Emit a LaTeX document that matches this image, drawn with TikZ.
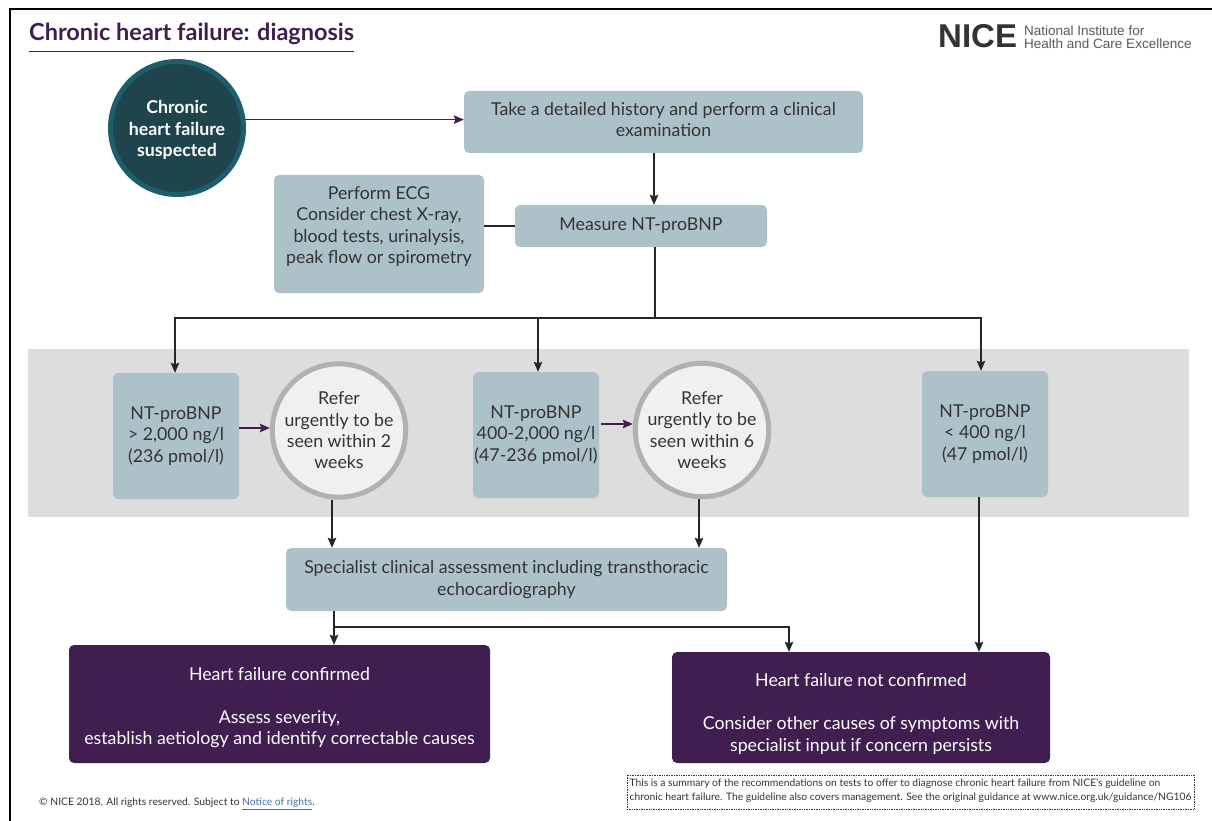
\documentclass[tikz,border=0pt]{standalone}
\usepackage{fontspec}
\setmainfont{Lato}
\newfontfamily\logofont{Liberation Sans}
\usetikzlibrary{arrows.meta}
\definecolor{boxblue}{HTML}{ADC2C8}
\definecolor{inkdark}{HTML}{333333}
\definecolor{nicepurple}{HTML}{401E4F}
\definecolor{darkteal}{HTML}{1F444C}
\definecolor{ringteal}{HTML}{1C5F6B}
\definecolor{bandgrey}{HTML}{DDDDDD}
\definecolor{ringgrey}{HTML}{B5B0B0}
\definecolor{paleround}{HTML}{F0F0EF}
\definecolor{linkblue}{HTML}{4472A8}
\tikzset{
  x=1pt,y=-1pt,
  bodytext/.style={font=\fontsize{17.75}{21.3}\selectfont,text=inkdark,align=center,inner sep=0pt},
  bluebox/.style={bodytext,fill=boxblue,rounded corners=5pt},
  purplebox/.style={bodytext,fill=nicepurple,text=white,rounded corners=5pt},
  startround/.style={bodytext,circle,fill=darkteal,draw=ringteal,line width=5pt,minimum size=133pt,text=white,font=\fontsize{17.75}{21.3}\selectfont\bfseries},
  referround/.style={bodytext,circle,fill=paleround,draw=ringgrey,line width=5pt,minimum size=133pt},
  blackarrow/.style={draw=black!85,line width=1.2pt,-{Stealth[length=10pt,width=8.5pt,inset=1.5pt]}},
  blackline/.style={draw=black!85,line width=1.2pt},
  purplearrow/.style={draw=nicepurple,line width=1.3pt,-{Stealth[length=10pt,width=8.5pt,inset=1.5pt]}},
}
\begin{document}
\begin{tikzpicture}
\useasboundingbox (0,0) rectangle (1212,821);
\fill[white] (0,0) rectangle (1212,821);
\draw[black,line width=2pt] (10,821) -- (10,9) -- (1212,9);
\fill[bandgrey] (28,349) rectangle (1189,517);
% title
\node[anchor=west,inner sep=0pt,text=nicepurple,font=\fontsize{23.5}{28}\selectfont\bfseries] (title) at (29,33.5) {Chronic heart failure: diagnosis};
\draw[nicepurple,line width=0.8pt] (title.west |- 0,51) -- (title.east |- 0,51);
% logo
\node[anchor=west,inner sep=0pt,text=inkdark,font=\fontsize{33}{33}\logofont\bfseries] (nice) at (938,36.5) {NICE};
\node[anchor=west,inner sep=0pt,text=black!65,align=left,font=\fontsize{13.5}{12.5}\logofont] (nicename) at (1024,37) {National Institute for\\Health and Care Excellence};
% nodes
\node[startround] (chf) at (177,128) {\rule{0pt}{17pt}Chronic\\heart failure\\suspected};
\node[bluebox,minimum width=399pt,minimum height=62pt] (hist) at (663.5,122) {Take a detailed history and perform a clinical\\\rule[-5pt]{0pt}{0pt}examination};
\node[bluebox,minimum width=252pt,minimum height=42pt] (bnp) at (641,226) {Measure NT-proBNP};
\node[bluebox,minimum width=210pt,minimum height=118pt] (ecg) at (379,234) {Perform ECG\\Consider chest X-ray,\\blood tests, urinalysis,\\\rule[-18pt]{0pt}{0pt}peak flow or spirometry};
\node[bluebox,minimum width=126pt,minimum height=126pt] (high) at (176,436) {NT-proBNP\\> 2,000 ng/l\\(236 pmol/l)};
\node[referround] (refa) at (339,430.5) {Refer\\urgently to be\\seen within 2\\weeks};
\node[bluebox,minimum width=126pt,minimum height=126pt] (mid) at (536,435) {NT-proBNP\\400-2,000 ng/l\\(47-236 pmol/l)};
\node[referround] (refb) at (702,430) {Refer\\urgently to be\\seen within 6\\weeks};
\node[bluebox,minimum width=126pt,minimum height=126pt] (low) at (985,434) {NT-proBNP\\< 400 ng/l\\(47 pmol/l)};
\node[bluebox,minimum width=441pt,minimum height=63pt] (spec) at (506.5,579.5) {Specialist clinical assessment including transthoracic\\echocardiography};
\node[purplebox,minimum width=421pt,minimum height=118pt] (conf) at (279.5,704) {\rule{0pt}{21pt}Heart failure confirmed\\[21.5pt]Assess severity,\\establish aetiology and identify correctable causes};
\node[purplebox,minimum width=378pt,minimum height=111pt] (notconf) at (861,707.5) {\rule{0pt}{26pt}Heart failure not confirmed\\[21.5pt]Consider other causes of symptoms with\\specialist input if concern persists};
% footer
\node[anchor=west,inner sep=0pt,text=inkdark,font=\fontsize{10.3}{12}\selectfont] (rights) at (39,804) {© NICE 2018. All rights reserved. Subject to \textcolor{linkblue}{\underline{Notice of rights}}.};
\node[draw=black!80,densely dotted,line width=0.7pt,text=inkdark,align=left,inner sep=0pt,minimum width=567pt,minimum height=34pt,font=\fontsize{10.3}{13.3}\selectfont] (note) at (910.5,792) {This is a summary of the recommendations on tests to offer to diagnose chronic heart failure from NICE's guideline on\\\rule[-5pt]{0pt}{0pt}chronic heart failure. The guideline also covers management. See the original guidance at www.nice.org.uk/guidance/NG106};
% junction coordinates
\coordinate (split) at (655,318);
\coordinate (fork) at (334,627);
\coordinate (ahi) at (0,428);
\coordinate (ami) at (0,424);
% connectors
\draw[purplearrow] (chf.7) -- (hist.west |- chf.7);
\draw[blackarrow] (hist.south -| 654,0) -- (bnp.north -| 654,0);
\draw[blackline] (ecg.east |- bnp.west) -- (bnp.west);
\draw[blackline] (bnp.south -| split) -- (split);
\draw[blackarrow] (split) -| (high.north -| 175,0);
\draw[blackarrow] (split) -| (mid.north -| 538,0);
\draw[blackarrow] (split) -| (low.north -| 981,0);
\draw[purplearrow] (high.east |- ahi) -- (refa.west |- ahi);
\draw[purplearrow] ([xshift=2pt]mid.east |- ami) -- (refb.west |- ami);
\draw[blackarrow] (refa.south -| 332,0) -- (spec.north -| 332,0);
\draw[blackarrow] (refb.south -| 699,0) -- (spec.north -| 699,0);
\draw[blackarrow] (spec.south -| fork) -- (conf.north -| fork);
\draw[blackarrow] (fork) -| (notconf.north -| 789,0);
\draw[blackarrow] (low.south -| 979,0) -- (notconf.north -| 979,0);
\end{tikzpicture}
\end{document}
